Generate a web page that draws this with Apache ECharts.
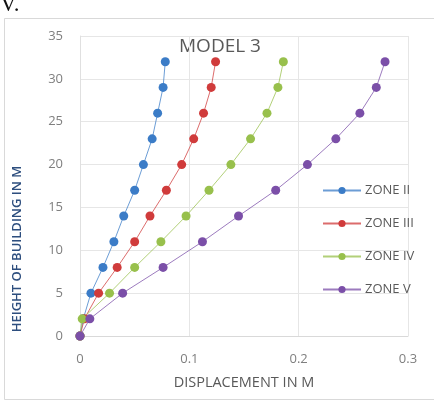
<!DOCTYPE html>
<html>
<head>
<meta charset="utf-8">
<script src="https://cdn.jsdelivr.net/npm/echarts@6/dist/echarts.min.js"></script>
<style>
html,body{margin:0;padding:0;background:#fff;}
#c{width:434px;height:412px;}
</style>
</head>
<body>
<div id="c"></div>
<script>
const heights = [0, 2, 5, 8, 11, 14, 17, 20, 23, 26, 29, 32];
const zone2 = [0, 0.003, 0.010, 0.021, 0.031, 0.040, 0.050, 0.058, 0.066, 0.071, 0.076, 0.078];
const zone3 = [0, 0.004, 0.017, 0.034, 0.050, 0.064, 0.079, 0.093, 0.104, 0.113, 0.120, 0.124];
const zone4 = [0, 0.002, 0.027, 0.050, 0.074, 0.097, 0.118, 0.138, 0.156, 0.171, 0.181, 0.186];
const zone5 = [0, 0.009, 0.039, 0.076, 0.112, 0.145, 0.179, 0.208, 0.234, 0.256, 0.271, 0.279];
const seriesNames = ['ZONE II', 'ZONE III', 'ZONE IV', 'ZONE V'];
const xTicks = [0, 0.1, 0.2, 0.3];
const yTicks = [0, 5, 10, 15, 20, 25, 30, 35];

const colors = ['#3b7cc7', '#d03b3b', '#98c04c', '#7b4fa8'];
const allData = [zone2, zone3, zone4, zone5];

const chart = echarts.init(document.getElementById('c'), null, {renderer: 'canvas'});
const font = '"Open Sans", "Noto Sans", sans-serif';

const series = allData.map((vals, i) => ({
  name: seriesNames[i],
  type: 'line',
  data: vals.map((v, k) => [v, heights[k]]),
  symbol: 'circle',
  symbolSize: 9,
  showSymbol: true,
  color: colors[i],
  lineStyle: {width: 1, color: colors[i], opacity: 0.75},
  itemStyle: {color: colors[i], borderWidth: 0},
  animation: false
}));

chart.setOption({
  animation: false,
  backgroundColor: '#fff',
  grid: {left: 80, right: 26, top: 36, bottom: 76},
  legend: {
    orient: 'vertical',
    left: 317,
    top: 179,
    itemWidth: 38,
    itemHeight: 9,
    itemGap: 20,
    data: seriesNames,
    textStyle: {fontFamily: font, fontSize: 13, color: '#595959', padding: [0, 0, 0, -1]}
  },
  xAxis: {
    type: 'value',
    min: 0, max: 0.3, interval: 0.1,
    name: 'DISPLACEMENT IN M',
    nameLocation: 'middle',
    nameGap: 39,
    nameTextStyle: {fontFamily: font, fontSize: 14.5, color: '#595959'},
    axisLine: {show: true, lineStyle: {color: '#d9d9d9'}},
    axisTick: {show: false},
    axisLabel: {
      fontFamily: font, fontSize: 13, color: '#7f7f7f', margin: 17,
      formatter: v => { const t = xTicks.find(x => Math.abs(x - v) < 1e-9); return t === undefined ? '' : String(t); }
    },
    splitLine: {show: true, lineStyle: {color: '#e6e6e6'}}
  },
  yAxis: {
    type: 'value',
    min: 0, max: 35, interval: 5,
    axisLine: {show: true, lineStyle: {color: '#e0e0e0'}},
    axisTick: {show: false},
    axisLabel: {
      fontFamily: font, fontSize: 13, color: '#7f7f7f', margin: 17,
      formatter: v => { const t = yTicks.find(y => y === v); return t === undefined ? '' : String(t); }
    },
    splitLine: {show: true, lineStyle: {color: '#e6e6e6'}}
  },
  graphic: [
    {
      type: 'rect', silent: true, z: -10,
      shape: {x: 4.5, y: 18.5, width: 440, height: 381},
      style: {fill: 'none', stroke: '#d9d9d9', lineWidth: 1}
    },
    {
      type: 'text', silent: true,
      x: 0, y: -7,
      style: {text: 'V.', font: '23px "Liberation Serif", "DejaVu Serif", serif', fill: '#111'}
    },
    {
      type: 'text', silent: true,
      x: 220, y: 37,
      style: {text: 'MODEL 3', font: '19px "Open Sans", "Noto Sans", sans-serif', fill: '#595959', textAlign: 'center'}
    },
    {
      type: 'text', silent: true,
      x: 11, y: 249, rotation: Math.PI / 2,
      style: {
        text: 'HEIGHT OF BUILDING IN M',
        font: '600 13px "Open Sans", "Noto Sans", sans-serif',
        fill: '#2d4e7e', textAlign: 'center', textVerticalAlign: 'top'
      }
    }
  ],
  series: series
});
</script>
</body>
</html>
